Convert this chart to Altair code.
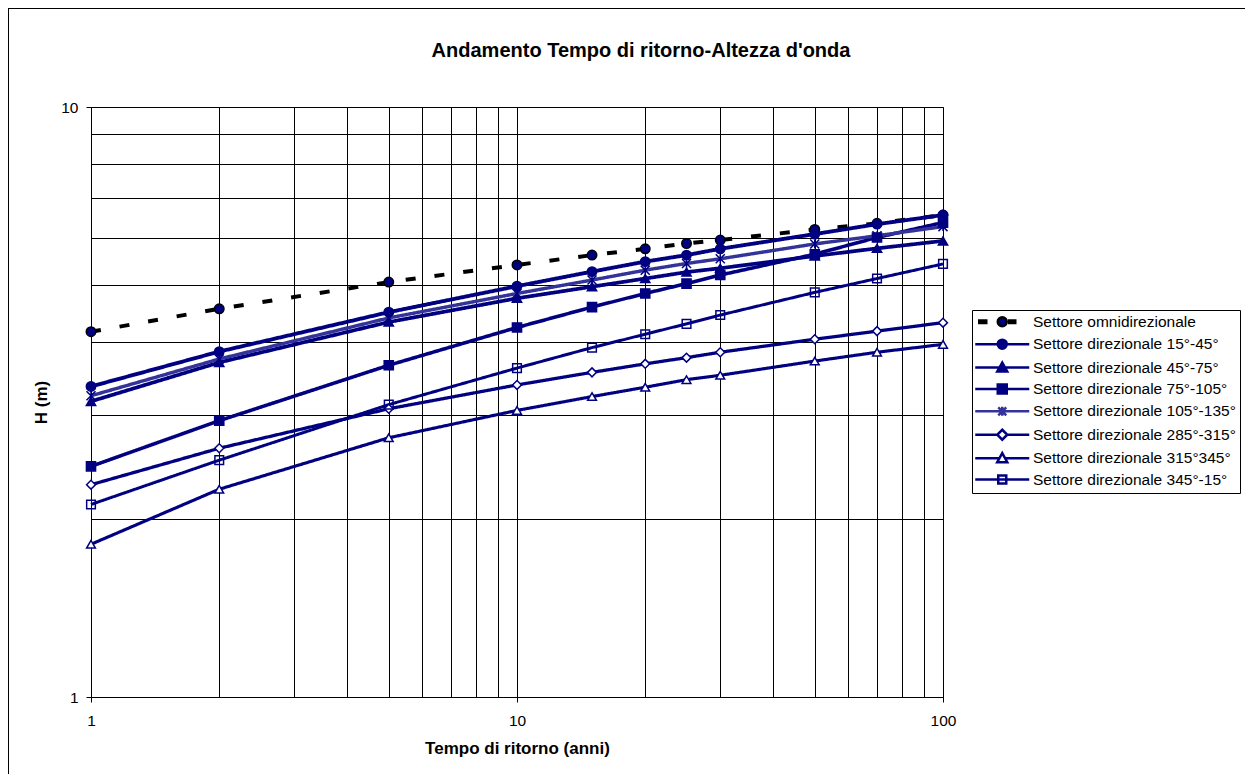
import altair as alt
import pandas as pd

# ---- data ----
T = [1, 2, 5, 10, 15, 20, 25, 30, 50, 70, 100]

names = [
    "Settore omnidirezionale",
    "Settore direzionale 15°-45°",
    "Settore direzionale 45°-75°",
    "Settore direzionale 75°-105°",
    "Settore direzionale 105°-135°",
    "Settore direzionale 285°-315°",
    "Settore direzionale 315°345°",
    "Settore direzionale 345°-15°",
]

H_omni = [4.16, 4.55, 5.05, 5.40, 5.61, 5.75, 5.87, 5.95, 6.20, 6.35, 6.56]
H_15_45 = [3.36, 3.85, 4.49, 4.97, 5.26, 5.47, 5.61, 5.75, 6.09, 6.33, 6.56]
H_45_75 = [3.17, 3.69, 4.32, 4.74, 4.96, 5.12, 5.25, 5.33, 5.59, 5.76, 5.93]
H_75_105 = [2.46, 2.94, 3.65, 4.23, 4.58, 4.83, 5.02, 5.19, 5.63, 6.01, 6.37]
H_105_135 = [3.24, 3.74, 4.39, 4.83, 5.09, 5.29, 5.43, 5.53, 5.86, 6.05, 6.27]
H_285_315 = [2.29, 2.64, 3.08, 3.38, 3.55, 3.67, 3.76, 3.84, 4.04, 4.17, 4.31]
H_315_345 = [1.815, 2.25, 2.75, 3.06, 3.23, 3.35, 3.45, 3.51, 3.71, 3.84, 3.96]
H_345_15 = [2.12, 2.52, 3.13, 3.61, 3.91, 4.12, 4.29, 4.44, 4.85, 5.12, 5.42]

series_values = [H_omni, H_15_45, H_45_75, H_75_105, H_105_135, H_285_315, H_315_345, H_345_15]

x_grid = [1, 2, 3, 4, 5, 6, 7, 8, 9, 10, 20, 30, 40, 50, 60, 70, 80, 90, 100]
y_grid = [1, 2, 3, 4, 5, 6, 7, 8, 9, 10]

title_text = "Andamento Tempo di ritorno-Altezza d'onda"
x_title = "Tempo di ritorno (anni)"
y_title = "H (m)"

# ---- styles ----
NAVY = "#000080"
LIGHT = "#333399"
STAR = "M-1,-1L1,1M-1,1L1,-1M0,-1L0,1"

line_colors = ["#000000", NAVY, NAVY, NAVY, LIGHT, NAVY, NAVY, NAVY]
line_dash = [[10, 19], [1, 0], [1, 0], [1, 0], [1, 0], [1, 0], [1, 0], [1, 0]]
line_width = [4, 3, 3, 3, 3, 3, 3, 3]

mk_shape = ["circle", "circle", "triangle-up", "square", STAR, "diamond", "triangle-up", "square"]
mk_fill = [NAVY, NAVY, NAVY, NAVY, "transparent", "#ffffff", "#ffffff", "transparent"]
mk_stroke = ["#000000", NAVY, NAVY, NAVY, NAVY, NAVY, NAVY, NAVY]
mk_size = [90, 75, 75, 60, 70, 60, 70, 55]

# legend symbols (pixel units, symbol size 4 -> scale 1)
circ = "M4.5,0A4.5,4.5 0 1,1 -4.5,0A4.5,4.5 0 1,1 4.5,0Z"
lg_shape = [
    "M-23,-1.2H-16V1.2H-23ZM7,-1.2H13V1.2H7Z" + circ,
    "M-27,0H27" + circ,
    "M-27,0H27M0,-5L5,4L-5,4Z",
    "M-27,0H27M-4.5,-4.5H4.5V4.5H-4.5Z",
    "M-27,0H27M-4,-4L4,4M-4,4L4,-4M0,-4.5V4.5",
    "M-27,0H-5M5,0H27M0,-5L5,0L0,5L-5,0Z",
    "M-27,0H-2.8M2.8,0H27M0,-5L5,4L-5,4Z",
    "M-27,0H27M-4,-4H4V4H-4Z",
]
lg_fill = [NAVY, NAVY, NAVY, NAVY, "transparent", "#ffffff", "#ffffff", "#ffffff"]
lg_stroke = ["#000000", NAVY, NAVY, NAVY, LIGHT, NAVY, NAVY, NAVY]

rows = []
for n, vals in zip(names, series_values):
    for t, h in zip(T, vals):
        rows.append({"series": n, "T": t, "H": h})
df = pd.DataFrame(rows)

FONT = "Liberation Sans"

xscale = alt.Scale(type="log", domain=[1, 100], nice=False)
yscale = alt.Scale(type="log", domain=[1, 10], nice=False)

x_axis = alt.Axis(
    values=x_grid,
    labelExpr="(datum.value == 1 || datum.value == 10 || datum.value == 100) ? datum.value : ''",
    tickOpacity={"condition": {"test": "datum.value == 1 || datum.value == 10 || datum.value == 100", "value": 1}, "value": 0},
    title=x_title,
    labelFlush=False,
    labelOverlap=False,
    labelPadding=11,
    titlePadding=12,
)
y_axis = alt.Axis(
    values=y_grid,
    labelExpr="(datum.value == 1 || datum.value == 10) ? datum.value : ''",
    tickOpacity={"condition": {"test": "datum.value == 1 || datum.value == 10", "value": 1}, "value": 0},
    title=y_title,
    labelOverlap=False,
    labelPadding=8,
    titlePadding=10,
)

base = alt.Chart(df)

frame = alt.Chart(pd.DataFrame({"k": [0]})).mark_rect(
    fillOpacity=0, stroke="#000000", strokeWidth=2
).encode(
    x=alt.value(-83), x2=alt.value(1400), y=alt.value(-99), y2=alt.value(1000)
)

title_mark = alt.Chart(pd.DataFrame({"t": [title_text]})).mark_text(
    font=FONT, fontSize=20, fontWeight="bold", color="#000000",
    align="center", baseline="alphabetic",
).encode(
    text="t:N", x=alt.value(550), y=alt.value(-50)
)

lines = base.mark_line().encode(
    x=alt.X("T:Q", scale=xscale, axis=x_axis),
    y=alt.Y("H:Q", scale=yscale, axis=y_axis),
    detail="series:N",
    color=alt.Color("series:N", scale=alt.Scale(domain=names, range=line_colors), legend=None),
    strokeDash=alt.StrokeDash("series:N", scale=alt.Scale(domain=names, range=line_dash), legend=None),
    strokeWidth=alt.StrokeWidth("series:N", scale=alt.Scale(domain=names, range=line_width), legend=None),
    order="T:Q",
)

points = base.mark_point(strokeWidth=1.5, opacity=1).encode(
    x=alt.X("T:Q", scale=xscale),
    y=alt.Y("H:Q", scale=yscale),
    shape=alt.Shape("series:N", scale=alt.Scale(domain=names, range=mk_shape), legend=None),
    fill=alt.Fill("series:N", scale=alt.Scale(domain=names, range=mk_fill), legend=None),
    stroke=alt.Stroke("series:N", scale=alt.Scale(domain=names, range=mk_stroke), legend=None),
    size=alt.Size("series:N", scale=alt.Scale(domain=names, range=mk_size), legend=None),
)

leg = alt.Legend(
    title=None,
    orient="none",
    legendX=881,
    legendY=203,
    symbolSize=4,
    symbolStrokeWidth=2.5,
    symbolOffset=18.5,
    labelOffset=23,
    labelFont=FONT,
    labelFontSize=15.5,
    labelColor="#000000",
    labelLimit=400,
    rowPadding=2.4,
    padding=4,
    strokeColor="#000000",
    fillColor="#ffffff",
)

legend_layer = base.mark_point(strokeWidth=2.5, opacity=1).encode(
    shape=alt.Shape("series:N", scale=alt.Scale(domain=names, range=lg_shape), legend=leg),
    fill=alt.Fill("series:N", scale=alt.Scale(domain=names, range=lg_fill), legend=leg),
    stroke=alt.Stroke("series:N", scale=alt.Scale(domain=names, range=lg_stroke), legend=leg),
).transform_filter("false")

chart = alt.layer(frame, title_mark, lines, points, legend_layer).resolve_scale(
    shape="independent", fill="independent", stroke="independent"
).properties(
    width=852,
    height=590,
    autosize=alt.AutoSizeParams(type="none"),
    padding={"left": 83, "top": 99, "right": 302, "bottom": 77},
).configure(
    font=FONT,
    background="#ffffff",
).configure_view(
    stroke="#808080", strokeWidth=1
).configure_axis(
    labelFont=FONT, labelFontSize=15.5, labelColor="#000000",
    titleFont=FONT, titleFontSize=17, titleFontWeight="bold", titleColor="#000000",
    domainColor="#000000", domainWidth=1,
    tickColor="#000000", tickSize=5, tickWidth=1,
    grid=True, gridColor="#000000", gridWidth=1, gridOpacity=1,
)

chart.save("out.html", embed_options={"renderer": "svg", "actions": False})
